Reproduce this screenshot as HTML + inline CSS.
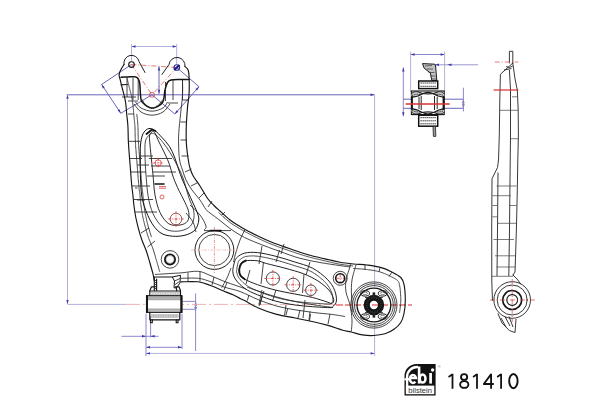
<!DOCTYPE html>
<html><head><meta charset="utf-8"><style>
html,body{margin:0;padding:0;width:600px;height:400px;overflow:hidden;background:#fff;}
svg{display:block;position:absolute;left:0;top:0}
.k{fill:none;stroke:#151515;stroke-width:1.15;stroke-linejoin:round;stroke-linecap:round}
.kt{fill:none;stroke:#262626;stroke-width:0.85}
.b{fill:none;stroke:#8c88cc;stroke-width:1}
.bd{fill:none;stroke:#6c66b8;stroke-width:1}
.bl{fill:none;stroke:#b4b0dc;stroke-width:1}
.rl{fill:none;stroke:#eeaaaa;stroke-width:0.9;stroke-dasharray:14 3 2 3}
.rb{fill:none;stroke:#e02a2a;stroke-width:1.2;stroke-dasharray:7 2}
.r{fill:none;stroke:#d02828;stroke-width:0.7}
.rx{fill:none;stroke:#e03838;stroke-width:0.8;stroke-dasharray:3 1.2 1 1.2}
.rd{fill:none;stroke:#d84040;stroke-width:0.7;stroke-dasharray:5 2 1 2}
.logo{position:absolute;font-family:"Liberation Sans",sans-serif}
</style></head><body>
<svg width="600" height="400" viewBox="0 0 600 400">
<line class="bl" x1="131.5" y1="46.5" x2="176.7" y2="46.5" />
<path d="M176.7,46.5 L172.7,47.7 L172.7,45.3Z" fill="#3a3aa8"/>
<path d="M131.5,46.5 L135.5,45.3 L135.5,47.7Z" fill="#3a3aa8"/>
<line class="bl" x1="131.5" y1="44.0" x2="131.5" y2="61.0" />
<line class="bl" x1="176.7" y1="44.0" x2="176.7" y2="64.0" />
<line class="bd" x1="131.4" y1="64.5" x2="101.6" y2="84.5" />
<line class="bd" x1="101.6" y1="84.5" x2="120.8" y2="113.3" />
<path d="M120.8,113.3 L117.6,110.6 L119.6,109.3Z" fill="#3a3aa8"/>
<path d="M101.6,84.5 L104.8,87.2 L102.8,88.5Z" fill="#3a3aa8"/>
<line class="bd" x1="120.8" y1="113.3" x2="152.0" y2="94.8" />
<line class="bd" x1="176.8" y1="67.5" x2="199.0" y2="86.7" />
<line class="bd" x1="199.0" y1="86.7" x2="174.8" y2="114.0" />
<path d="M174.8,114.0 L176.6,110.2 L178.4,111.8Z" fill="#3a3aa8"/>
<path d="M199.0,86.7 L197.2,90.5 L195.4,88.9Z" fill="#3a3aa8"/>
<line class="bd" x1="174.8" y1="114.0" x2="152.0" y2="94.8" />
<line class="bd" x1="159.0" y1="66.6" x2="159.0" y2="93.8" />
<path d="M159.0,93.8 L157.8,89.8 L160.2,89.8Z" fill="#3a3aa8"/>
<path d="M159.0,66.6 L160.2,70.6 L157.8,70.6Z" fill="#3a3aa8"/>
<line class="bd" x1="66.7" y1="94.8" x2="374.5" y2="94.8" />
<path d="M374.5,94.8 L370.5,96.0 L370.5,93.6Z" fill="#3a3aa8"/>
<line class="bl" x1="67.5" y1="94.8" x2="67.5" y2="304.0" />
<path d="M67.5,304.0 L66.3,300.0 L68.7,300.0Z" fill="#3a3aa8"/>
<path d="M67.5,94.8 L68.7,98.8 L66.3,98.8Z" fill="#3a3aa8"/>
<line class="bl" x1="67.5" y1="304.4" x2="126.0" y2="304.4" />
<line class="bl" x1="374.6" y1="94.8" x2="374.6" y2="287.0" />
<line class="bl" x1="374.6" y1="323.0" x2="374.6" y2="356.0" />
<line class="bl" x1="146.0" y1="353.4" x2="374.6" y2="353.4" />
<path d="M374.6,353.4 L370.6,354.6 L370.6,352.2Z" fill="#3a3aa8"/>
<path d="M146.0,353.4 L150.0,352.2 L150.0,354.6Z" fill="#3a3aa8"/>
<line class="b" x1="146.0" y1="347.3" x2="182.0" y2="347.3" />
<path d="M182.0,347.3 L178.0,348.5 L178.0,346.1Z" fill="#3a3aa8"/>
<path d="M146.0,347.3 L150.0,346.1 L150.0,348.5Z" fill="#3a3aa8"/>
<line class="b" x1="146.0" y1="313.7" x2="146.0" y2="356.0" />
<line class="b" x1="150.6" y1="316.0" x2="150.6" y2="337.4" />
<line class="b" x1="182.0" y1="313.7" x2="182.0" y2="349.0" />
<line class="b" x1="121.4" y1="336.3" x2="158.5" y2="336.3" />
<path d="M146.0,336.3 L142.0,337.5 L142.0,335.1Z" fill="#3a3aa8"/>
<path d="M150.6,336.3 L154.6,335.1 L154.6,337.5Z" fill="#3a3aa8"/>
<line class="bd" x1="195.6" y1="301.4" x2="195.6" y2="311.0" />
<path d="M195.6,311.0 L194.4,307.0 L196.8,307.0Z" fill="#3a3aa8"/>
<path d="M195.6,301.4 L196.8,305.4 L194.4,305.4Z" fill="#3a3aa8"/>
<line class="b" x1="195.6" y1="293.5" x2="195.6" y2="351.0" />
<line class="b" x1="182.5" y1="301.4" x2="196.0" y2="301.4" />
<line class="b" x1="182.5" y1="309.3" x2="196.0" y2="309.3" />
<line class="rl" x1="126.0" y1="304.4" x2="336.0" y2="304.4" />
<line class="rb" x1="336.0" y1="305.0" x2="412.0" y2="305.0" />
<path class="rd" d="M131.4,64.5 L176.75,67.5 M131.4,64.5 L152,94.75 L176.75,67.5" />
<path class="k" d="M124.0,64.5 C123.6,65.2 122.2,67.2 121.5,68.5 C120.8,69.8 120.0,71.2 119.6,72.5 C119.2,73.8 119.1,74.8 119.2,76.0 C119.3,77.2 119.8,78.0 120.3,80.0 C120.8,82.0 121.5,85.3 122.2,88.0 C122.9,90.7 123.7,93.3 124.3,96.0 C124.9,98.7 125.4,100.8 125.8,104.0 C126.2,107.2 126.4,111.3 126.8,115.0 C127.2,118.7 127.7,121.8 127.9,126.0 C128.2,130.2 128.1,135.2 128.3,140.0 C128.5,144.8 128.9,150.0 129.3,155.0 C129.7,160.0 130.1,165.0 130.5,170.0 C130.9,175.0 131.3,180.8 131.7,185.0 C132.1,189.2 132.5,191.5 132.9,195.0 C133.3,198.5 133.5,202.2 134.0,206.0 C134.5,209.8 135.1,213.7 135.8,217.5 C136.6,221.3 137.5,225.0 138.5,228.8 C139.5,232.5 140.6,236.2 141.9,240.0 C143.2,243.8 145.1,247.5 146.4,251.2 C147.7,255.0 148.7,258.8 149.8,262.5 C150.8,266.2 152.2,270.8 153.0,273.8 C153.8,276.8 154.0,279.4 154.2,280.5" />
<path class="k" d="M185.0,66.5 C185.6,67.2 187.6,68.2 188.3,70.5 C189.0,72.8 189.1,75.9 189.2,80.0 C189.3,84.1 189.3,90.4 189.0,95.0 C188.7,99.6 187.9,102.3 187.5,107.5 C187.1,112.7 186.5,120.2 186.3,126.0 C186.1,131.8 186.1,137.2 186.3,142.0 C186.5,146.8 187.1,151.2 187.6,155.0 C188.1,158.8 188.7,162.4 189.2,165.0 C189.7,167.6 190.1,168.6 190.8,170.5 C191.5,172.4 192.0,173.9 193.5,176.5 C195.0,179.1 197.6,182.2 200.0,186.0 C202.4,189.8 205.7,195.8 208.0,199.0 C210.3,202.2 212.0,203.5 214.0,205.5 C216.0,207.5 217.3,208.6 220.0,211.0 C222.7,213.4 226.7,217.4 230.0,220.0 C233.3,222.6 236.7,224.5 240.0,226.5 C243.3,228.5 246.7,230.2 250.0,232.0 C253.3,233.8 256.7,235.4 260.0,237.0 C263.3,238.6 266.7,240.1 270.0,241.5 C273.3,242.9 276.7,244.1 280.0,245.3 C283.3,246.5 286.7,247.7 290.0,248.8 C293.3,250.0 296.7,251.1 300.0,252.2 C303.3,253.3 306.7,254.3 310.0,255.2 C313.3,256.1 316.7,256.9 320.0,257.7 C323.3,258.5 326.7,259.2 330.0,260.0 C333.3,260.8 336.1,261.5 340.0,262.2 C343.9,262.9 349.0,263.5 353.5,264.0 C358.0,264.5 362.5,264.4 367.0,265.0 C371.5,265.6 376.4,266.2 380.5,267.4 C384.6,268.5 388.4,270.2 391.8,271.9 C395.2,273.6 398.8,275.4 400.8,277.5 C402.8,279.6 403.2,280.6 404.0,284.3 C404.8,288.1 405.3,295.1 405.3,300.0 C405.3,304.9 404.8,309.8 404.0,313.5 C403.2,317.2 402.5,319.9 400.8,322.5 C399.1,325.1 396.6,327.4 394.0,329.3 C391.4,331.2 388.4,332.8 385.0,333.8 C381.6,334.8 377.6,335.3 373.8,335.5 C370.1,335.7 366.2,335.5 362.5,334.9 C358.8,334.3 354.6,332.8 351.3,332.0 C348.0,331.2 346.6,331.3 342.8,330.2 C338.9,329.1 332.9,326.8 328.0,325.4 C323.1,324.0 318.9,322.9 313.4,321.7 C307.9,320.5 301.1,319.2 295.0,318.0 C288.9,316.8 282.8,316.1 276.7,314.4 C270.6,312.7 263.6,310.3 258.3,308.0 C253.0,305.7 248.1,302.4 245.0,300.8 C241.9,299.2 242.0,299.5 240.0,298.5 C238.0,297.5 235.7,295.9 233.0,294.7 C230.3,293.5 227.8,292.8 224.0,291.2 C220.2,289.6 214.3,286.9 210.0,285.3 C205.7,283.7 202.8,282.4 198.0,281.8 C193.2,281.2 183.8,281.8 181.0,281.8" />
<path class="kt" d="M127.1,78.4 L127.2,78.8 L127.2,78.8 L127.3,79.3 L127.5,79.8 L127.6,80.5 L127.8,81.2 L127.9,81.9 L128.1,82.7 L128.3,83.4 L128.5,84.2 L128.7,84.9 L128.8,85.6 L129.0,86.3 L129.1,86.9 L129.3,87.5 L129.5,88.2 L129.7,88.8 L129.8,89.5 L130.0,90.1 L130.0,90.2 L130.2,90.8 L130.2,90.8 L130.4,91.5 L130.4,91.6 L130.6,92.2 L130.6,92.3 L130.8,92.9 L130.8,93.0 L130.9,93.7 L131.0,93.8 L131.1,94.4 L131.1,94.5 L131.3,95.1 L131.3,95.1 L131.4,95.8 L131.4,95.8 L131.6,96.4 L131.6,96.5 L131.7,97.1 L131.7,97.1 L131.8,97.8 L131.9,97.8 L132.0,98.4 L132.0,98.5 L132.1,99.1 L132.1,99.2 L132.2,99.9 L132.3,99.9 L132.4,100.6 L132.4,100.7 L132.5,101.4 L132.5,101.5 L132.6,102.2 L132.6,102.3 L132.7,103.1 L132.7,103.1 L132.8,104.0 L132.9,104.0 L133.0,104.9 L133.0,105.0 L133.0,105.8 L133.1,105.9 L133.1,106.8 L133.1,106.8 L133.2,107.8 L133.2,107.8 L133.3,108.7 L133.3,108.8 L133.4,109.7 L133.5,110.7 L133.5,111.6 L133.6,112.5 L133.7,113.5 L133.8,114.3 L133.9,115.2 L133.9,116.0 L134.0,116.9 L134.1,117.8 L134.2,118.6 L134.2,118.6 L134.3,119.5 L134.3,119.5 L134.4,120.4 L134.4,120.5 L134.5,121.4 L134.5,121.4 L134.6,122.4 L134.6,122.4 L134.7,123.4 L134.7,123.5 L134.8,124.4 L134.8,124.5 L134.9,125.5 L134.9,125.6 L134.9,126.7 L135.0,126.8 L135.0,127.9 L135.0,127.9 L135.0,129.0 L135.0,129.1 L135.1,130.2 L135.1,130.3 L135.1,131.4 L135.1,131.4 L135.1,132.6 L135.1,133.8 L135.1,135.0 L135.2,136.2 L135.2,137.4 L135.2,138.5 L135.3,139.7 L135.4,140.8 L135.4,142.0 L135.5,143.3 L135.6,144.5 L135.6,145.7 L135.7,147.0 L135.8,148.2 L135.9,149.5 L136.0,150.7 L136.1,152.0 L136.2,153.2 L136.3,154.5 L136.4,155.7 L136.5,157.0 L136.6,158.2 L136.7,159.4 L136.8,160.7 L136.9,161.9 L137.0,163.2 L137.1,164.4 L137.2,165.7 L137.3,166.9 L137.4,168.2 L137.5,169.4 L137.5,169.4 L137.6,170.7 L137.6,170.7 L137.7,172.0 L137.7,172.0 L137.8,173.3 L137.9,174.7 L138.0,176.0 L138.1,177.3 L138.2,178.6 L138.3,179.8 L138.4,181.0 L138.5,182.2 L138.6,183.3 L138.7,184.3 L138.8,185.3 L138.9,186.2 L139.0,187.0 L139.1,187.8 L139.1,188.6 L139.2,189.3 L139.3,190.1 L139.4,190.9 L139.4,190.9 L139.5,191.6 L139.6,191.7 L139.7,192.5 L139.7,192.5 L139.8,193.3 L139.8,193.4 L139.9,194.2 L139.9,194.3 L140.0,195.1 L140.0,195.2 L140.0,196.1 L140.1,196.1 L140.1,197.0 L140.1,197.0 L140.2,197.9 L140.2,197.9 L140.3,198.9 L140.4,199.8 L140.5,200.7 L140.6,201.6 L140.6,202.5 L140.7,203.4 L140.8,204.2 L140.9,205.1 L141.1,206.0 L141.2,207.0 L141.3,207.9 L141.4,208.8 L141.6,209.7 L141.7,210.7 L141.9,211.6 L142.0,212.5 L142.2,213.4 L142.3,214.3 L142.5,215.3 L142.7,216.1 L142.8,217.0 L143.0,217.9 L143.2,218.8 L143.4,219.7 L143.6,220.6 L143.9,221.5 L144.1,222.4 L144.3,223.3 L144.5,224.2 L144.8,225.1 L145.0,226.0 L145.3,226.9 L145.5,227.8 L145.8,228.8 L146.0,229.7 L146.3,230.6 L146.5,231.5 L146.8,232.4 L147.1,233.3 L147.3,234.2 L147.6,235.0 L147.9,235.9 L148.2,236.8 L148.5,237.7 L148.8,238.5 L149.1,239.3 L149.5,240.2 L149.8,241.1 L150.2,242.0 L150.6,242.9 L151.0,243.8 L151.0,243.9 L151.4,244.8 L151.4,244.8 L151.8,245.8 L151.8,245.8 L152.2,246.8 L152.2,246.9 L152.6,247.8 L152.6,247.9 L153.0,248.9 L153.0,249.0 L153.3,249.9 L153.4,250.0 L153.7,251.0 L153.7,251.0 L154.0,252.0 L154.0,252.0 L154.3,253.0 L154.3,253.0 L154.6,254.0 L154.6,254.0 L154.9,254.9 L154.9,255.0 L155.2,255.9 L155.2,255.9 L155.4,256.9 L155.7,257.8 L155.9,258.7 L156.2,259.6 L156.5,260.5 L156.8,261.5 L156.8,261.5 L157.1,262.6 L157.4,263.6 L157.7,264.7 L158.0,265.8 L158.3,266.9 L158.6,267.9 L158.9,268.9 L159.1,269.8 L159.4,270.6 L159.6,271.3 L159.7,271.8" />
<path class="kt" d="M136.7,113.9 L136.8,114.4 L136.9,115.0 L136.9,115.8 L137.0,116.6 L137.0,116.6 L137.2,117.5 L137.2,117.5 L137.3,118.5 L137.3,118.5 L137.4,119.6 L137.4,119.6 L137.5,120.7 L137.5,120.7 L137.6,121.8 L137.6,121.9 L137.7,123.0 L137.7,123.1 L137.8,124.2 L137.8,124.3 L137.9,125.3 L137.9,125.5 L137.9,126.5 L137.9,126.7 L138.0,127.7 L138.0,127.8 L138.0,129.0 L138.0,129.0 L138.1,130.2 L138.1,130.2 L138.1,131.4 L138.1,131.4 L138.1,132.6 L138.1,133.8 L138.1,134.9 L138.2,136.1 L138.2,137.3 L138.2,138.4 L138.3,139.5 L138.3,140.7 L138.4,141.9 L138.5,143.1 L138.6,144.3 L138.6,145.5 L138.7,146.7 L138.8,148.0 L138.9,149.2 L139.0,150.5 L139.1,151.8 L139.2,153.0 L139.3,154.3 L139.4,155.5 L139.5,156.7 L139.6,158.0 L139.7,159.2 L139.8,160.4 L139.9,161.7 L140.0,162.9 L140.1,164.2 L140.2,165.4 L140.3,166.7 L140.4,167.9 L140.5,169.2 L140.5,169.2 L140.6,170.5 L140.6,170.5 L140.7,171.8 L140.7,171.8 L140.8,173.1 L140.9,174.4 L141.0,175.7 L141.1,177.0 L141.2,178.3 L141.3,179.6 L141.4,180.8 L141.5,181.9 L141.6,183.0 L141.7,184.0 L141.7,185.0 L141.8,185.8 L141.9,186.7 L142.0,187.4 L142.1,188.2 L142.2,189.0 L142.3,189.7 L142.4,190.5 L142.4,190.5 L142.5,191.3 L142.5,191.3 L142.6,192.1 L142.6,192.1 L142.7,193.0 L142.7,193.0 L142.8,193.9 L142.8,193.9 L142.9,194.8 L142.9,194.9 L143.0,195.8 L143.0,195.8 L143.1,196.7 L143.1,196.8 L143.2,197.7 L143.2,197.7 L143.3,198.6 L143.4,199.5 L143.5,200.4 L143.5,201.3 L143.6,202.2 L143.7,203.0 L143.8,203.9 L143.9,204.7 L144.0,205.6 L144.2,206.6 L144.3,207.5 L144.4,208.4 L144.5,209.3 L144.7,210.2 L144.8,211.1 L145.0,212.0 L145.1,212.9 L145.3,213.8 L145.4,214.7 L145.6,215.6 L145.8,216.4 L146.0,217.3 L146.2,218.2 L146.4,219.0 L146.6,219.9 L146.8,220.8 L147.0,221.7 L147.2,222.5 L147.4,223.4 L147.7,224.3 L147.9,225.2 L148.1,226.1 L148.4,227.0 L148.7,228.0 L149.0,229.0 L149.3,230.0 L149.6,231.1 L149.9,232.1 L150.2,233.1 L150.5,234.1 L150.8,235.0 L151.1,235.8 L151.1,235.8 L151.3,236.5 L151.3,236.5 L151.5,237.1" />
<path class="kt" d="M182.5,80.0 C182.5,82.5 182.8,89.4 182.5,95.0 C182.2,100.6 181.2,107.5 180.6,113.7 C180.0,120.0 179.1,127.3 178.8,132.5 C178.5,137.7 178.5,140.4 178.6,145.0 C178.7,149.6 178.9,155.8 179.6,160.0 C180.2,164.2 181.4,166.7 182.5,170.0 C183.6,173.3 184.4,176.7 186.0,180.0 C187.6,183.3 189.7,186.7 192.0,190.0 C194.3,193.3 197.7,196.8 200.0,200.0 C202.3,203.2 204.3,207.3 206.0,209.5 C207.7,211.7 207.7,211.2 210.0,213.0 C212.3,214.8 216.7,217.9 220.0,220.5 C223.3,223.1 226.7,226.1 230.0,228.5 C233.3,230.9 236.7,233.1 240.0,235.0 C243.3,236.9 245.8,238.2 250.0,240.0 C254.2,241.8 260.0,244.1 265.0,246.0 C270.0,247.9 274.2,249.4 280.0,251.5 C285.8,253.6 293.3,256.5 300.0,258.3 C306.7,260.1 313.3,261.3 320.0,262.5 C326.7,263.7 334.9,264.9 340.0,265.6 C345.1,266.4 348.8,266.8 350.5,267.0" />
<path class="kt" d="M218.6,212.5 L219.1,212.9 L219.7,213.5 L220.4,214.1 L221.2,214.9 L221.2,214.9 L222.1,215.7 L222.1,215.7 L223.0,216.6 L223.0,216.6 L224.0,217.4 L224.0,217.5 L225.0,218.3 L225.0,218.3 L225.9,219.2 L226.0,219.2 L226.9,220.1 L226.9,220.1 L227.9,220.8 L227.9,220.9 L228.8,221.6 L228.8,221.6 L229.6,222.2 L229.7,222.2 L230.5,222.9 L230.5,222.9 L231.4,223.5 L231.4,223.5 L232.2,224.0 L232.2,224.1 L233.1,224.6 L233.1,224.6 L233.9,225.2 L233.9,225.2 L234.8,225.7 L234.8,225.7 L235.6,226.2 L235.6,226.2 L236.5,226.7 L236.5,226.7 L237.3,227.2 L237.3,227.2 L238.1,227.7 L239.0,228.2 L239.0,228.2 L239.8,228.7 L239.8,228.7 L240.7,229.2 L240.7,229.2 L241.5,229.7 L241.5,229.7 L242.4,230.2 L242.4,230.2 L243.2,230.6 L243.2,230.6 L244.0,231.1 L244.0,231.1 L244.9,231.6 L244.9,231.6 L245.7,232.0 L245.7,232.0 L246.6,232.4 L246.6,232.5 L247.4,232.9 L247.4,232.9 L248.2,233.3 L249.1,233.8 L249.1,233.8 L249.9,234.2 L249.9,234.2 L250.7,234.6 L250.8,234.6 L251.6,235.1 L251.6,235.1 L252.4,235.5 L252.4,235.5 L253.3,235.9 L253.3,235.9 L254.1,236.3 L254.1,236.4 L254.9,236.8 L254.9,236.8 L255.8,237.2 L255.8,237.2 L256.6,237.6 L256.6,237.6 L257.5,238.0 L257.5,238.0 L258.3,238.4 L258.3,238.4 L259.1,238.8 L259.1,238.8 L260.0,239.2 L260.0,239.2 L260.8,239.6 L260.8,239.6 L261.7,240.0 L261.7,240.0 L262.5,240.4 L262.5,240.4 L263.3,240.8 L263.3,240.8 L264.2,241.1 L264.2,241.1 L265.0,241.5 L265.0,241.5 L265.9,241.9 L265.9,241.9 L266.7,242.3 L266.7,242.3 L267.5,242.6 L267.5,242.6 L268.4,243.0 L268.4,243.0 L269.2,243.3 L269.2,243.4 L270.1,243.7 L270.1,243.7 L270.9,244.0 L270.9,244.0 L271.8,244.4 L271.8,244.4 L272.6,244.7 L272.6,244.7 L273.5,245.0 L273.5,245.0 L274.3,245.3 L274.3,245.3 L275.1,245.6 L275.1,245.6 L276.0,246.0 L276.0,246.0 L276.8,246.3 L276.8,246.3 L277.6,246.6 L278.5,246.9 L279.3,247.2 L279.3,247.2 L280.2,247.5 L280.2,247.5 L281.0,247.8 L281.0,247.8 L281.8,248.1 L281.8,248.1 L282.7,248.4 L282.7,248.4 L283.5,248.7 L283.5,248.7 L284.3,249.0 L284.3,249.0 L285.2,249.3 L285.2,249.3 L286.0,249.5 L286.8,249.8 L287.7,250.1 L288.5,250.4 L289.3,250.7 L290.2,251.0 L291.0,251.3 L291.8,251.6 L292.7,251.8 L293.5,252.1 L293.5,252.1 L294.3,252.4 L294.4,252.4 L295.2,252.7 L295.2,252.7 L296.0,253.0 L296.0,253.0 L296.9,253.3 L296.9,253.3 L297.7,253.6 L297.7,253.6 L298.5,253.8 L298.6,253.8 L299.4,254.1 L299.4,254.1 L300.2,254.4 L300.2,254.4 L301.1,254.6 L301.1,254.6 L301.9,254.9 L301.9,254.9 L302.7,255.2 L302.7,255.2 L303.6,255.4 L303.6,255.4 L304.4,255.7 L304.4,255.7 L305.3,255.9 L305.3,255.9 L306.1,256.2 L306.1,256.2 L306.9,256.4 L306.9,256.4 L307.8,256.7 L307.8,256.7 L308.6,256.9 L308.6,256.9 L309.5,257.1 L309.5,257.1 L310.3,257.4 L310.3,257.4 L311.2,257.6 L311.2,257.6 L312.0,257.8 L312.0,257.8 L312.8,258.0 L312.8,258.0 L313.7,258.2 L313.7,258.2 L314.5,258.4 L314.5,258.4 L315.4,258.6 L315.4,258.6 L316.2,258.8 L316.2,258.8 L317.0,259.0 L317.9,259.2 L318.7,259.4 L319.5,259.6 L320.4,259.8 L320.4,259.8 L321.2,260.0 L321.2,260.0 L322.0,260.2 L322.0,260.2 L322.9,260.4 L322.9,260.4 L323.7,260.6 L323.7,260.6 L324.6,260.8 L324.6,260.8 L325.4,261.0 L326.2,261.2 L327.1,261.4 L327.9,261.6 L328.7,261.8 L329.6,262.0 L330.4,262.1 L331.2,262.3 L332.0,262.5 L332.7,262.7 L333.5,262.9 L333.5,262.9 L334.3,263.1 L334.3,263.1 L335.1,263.3 L335.2,263.3 L336.0,263.5 L336.0,263.5 L336.8,263.6 L336.9,263.6 L337.7,263.8 L337.8,263.8 L338.7,264.0 L338.7,264.0 L339.7,264.2 L339.7,264.2 L340.7,264.3 L340.7,264.3 L341.9,264.5 L341.9,264.5 L343.2,264.7 L343.2,264.7 L344.5,264.9 L344.5,264.9 L345.8,265.1 L345.8,265.1 L347.1,265.2 L347.1,265.2 L348.4,265.4 L348.4,265.4 L349.6,265.5 L350.7,265.7 L351.7,265.8 L352.6,265.9 L353.2,266.0" />
<path class="kt" d="M155.0,274.5 C157.5,274.3 165.5,273.8 170.0,273.5 C174.5,273.2 177.3,273.2 182.0,272.8 C186.7,272.4 193.6,270.9 198.3,271.3 C203.0,271.7 205.7,273.7 210.0,275.4 C214.3,277.1 219.7,279.6 224.0,281.3 C228.3,283.0 232.3,284.2 236.0,285.5 C239.7,286.8 244.3,288.4 246.0,289.0" />
<path class="kt" d="M181.0,278.3 C183.9,278.3 193.5,277.8 198.3,278.3 C203.1,278.8 205.7,280.1 210.0,281.5 C214.3,282.9 219.0,285.3 224.0,287.0 C229.0,288.7 234.3,289.4 240.0,291.5 C245.7,293.6 252.2,297.3 258.3,299.7 C264.4,302.1 270.6,304.4 276.7,306.1 C282.8,307.8 288.9,308.7 295.0,309.8 C301.1,310.8 307.3,311.7 313.4,312.5 C319.5,313.3 326.5,313.7 331.8,314.4 C337.0,315.1 342.8,316.1 345.0,316.5" />
<path class="kt" d="M247.0,287.0 C248.3,287.5 250.3,288.4 255.0,290.0 C259.7,291.6 268.3,294.6 275.0,296.5 C281.7,298.4 288.3,300.1 295.0,301.5 C301.7,302.9 308.7,304.0 315.0,305.0 C321.3,306.0 330.0,307.1 333.0,307.5" />
<line class="kt" x1="259.0" y1="306.0" x2="264.0" y2="291.0" />
<line class="kt" x1="272.5" y1="301.0" x2="276.0" y2="290.0" />
<line class="kt" x1="286.0" y1="315.0" x2="287.5" y2="309.0" />
<line class="kt" x1="309.5" y1="321.0" x2="310.5" y2="314.0" />
<line class="kt" x1="249.0" y1="295.0" x2="247.3" y2="300.6" />
<line class="kt" x1="262.0" y1="297.0" x2="260.0" y2="305.0" />
<line class="kt" x1="286.0" y1="305.0" x2="284.5" y2="315.5" />
<line class="kt" x1="310.0" y1="311.5" x2="309.0" y2="320.0" />
<line class="kt" x1="214.0" y1="277.0" x2="212.0" y2="285.0" />
<line class="kt" x1="227.0" y1="282.5" x2="224.0" y2="290.0" />
<line class="kt" x1="200.0" y1="271.5" x2="200.0" y2="281.5" />
<line class="kt" x1="188.0" y1="272.5" x2="188.0" y2="281.5" />
<path class="k" d="M124,64.5 A7.6,7.6 0 0 1 139,61.5 L145,72.5" style="stroke-width:0.95"/>
<path class="k" d="M162,74.4 L169,64.5 A8,8 0 0 1 185,66.5" style="stroke-width:0.95"/>
<circle class="k" cx="131.5" cy="64.5" r="2.8" />
<circle class="k" cx="176.8" cy="67.5" r="2.8" style="stroke:#2a2a90"/>
<path class="k" d="M174.8,69.3 L178.8,65.7" style="stroke:#1a1a80;stroke-width:2.2"/>
<path class="k" d="M121.0,77.3 C122.2,77.2 125.7,77.1 128.0,77.0 C130.3,76.9 133.3,76.5 135.0,76.8 C136.7,77.0 137.2,77.3 138.0,78.5 C138.8,79.7 139.4,81.1 139.8,84.0 C140.2,86.9 140.2,92.9 140.6,96.0 C141.0,99.1 140.5,100.5 142.5,102.5 C144.5,104.5 149.2,108.0 152.5,108.0 C155.8,108.0 160.4,105.5 162.5,102.5 C164.6,99.5 164.2,93.3 165.0,90.0 C165.8,86.7 166.5,84.2 167.5,82.5 C168.5,80.8 168.9,80.5 171.0,80.0 C173.1,79.5 177.0,79.6 180.0,79.5 C183.0,79.4 187.5,79.5 189.0,79.5" style="stroke-width:1.5"/>
<path class="kt" d="M142.0,100.0 C142.7,100.9 144.3,104.1 146.0,105.5 C147.7,106.9 150.0,108.3 152.0,108.3 C154.0,108.3 156.2,106.9 158.0,105.5 C159.8,104.1 162.2,100.9 163.0,100.0" style="stroke-dasharray:1.2 0.6;stroke-width:1.3"/>
<path class="kt" d="M135.5,102.0 C136.4,103.0 138.2,106.5 141.0,108.0 C143.8,109.5 148.3,111.2 152.0,111.2 C155.7,111.2 160.4,109.5 163.0,108.0 C165.6,106.5 166.8,103.0 167.5,102.0" />
<path class="kt" d="M134.0,104.0 C135.2,105.3 138.0,110.1 141.0,112.0 C144.0,113.9 148.3,115.2 152.0,115.2 C155.7,115.2 160.0,113.9 163.0,112.0 C166.0,110.1 168.8,105.3 170.0,104.0" />
<path class="kt" d="M128,101 L138,101 M168,103 L178,103 M128,114 L134,114 M138.2,80 L138.2,100 M165.5,82 L165.5,101" />
<path class="kt" d="M120.5,85 L128,84.5 M127,77 L127,97 M133,78 L133,100 M173,80 L173,100 M182.5,80 L182.5,100 M122,97 L136,97" />
<path class="kt" d="M150.0,128.5 C151.6,128.6 153.3,129.3 155.3,130.8 C157.3,132.3 159.6,134.9 162.0,137.5 C164.4,140.1 167.4,143.2 169.5,146.5 C171.6,149.8 173.0,153.2 174.5,157.0 C176.0,160.8 177.2,165.2 178.5,169.0 C179.8,172.8 180.9,176.2 182.5,180.0 C184.1,183.8 186.2,188.2 188.0,192.0 C189.8,195.8 191.5,199.7 193.0,203.0 C194.5,206.3 196.0,209.2 197.0,212.0 C198.0,214.8 199.1,217.0 198.8,220.0 C198.5,223.0 197.3,227.5 195.0,230.0 C192.7,232.5 188.8,234.2 185.0,235.2 C181.2,236.2 176.7,236.6 172.5,236.2 C168.3,235.8 163.8,235.2 160.0,232.5 C156.2,229.8 152.9,225.4 150.0,220.0 C147.1,214.6 144.1,206.7 142.5,200.0 C140.9,193.3 141.0,186.7 140.6,180.0 C140.2,173.3 140.3,165.8 140.3,160.0 C140.3,154.2 140.1,149.2 140.5,145.0 C140.9,140.8 141.6,137.5 142.5,135.0 C143.4,132.5 144.8,131.1 146.0,130.0 C147.2,128.9 148.4,128.4 150.0,128.5Z" style="stroke:#151515;stroke-width:1"/>
<path class="kt" d="M151.5,133.5 C152.9,133.2 154.1,133.5 156.0,135.0 C157.9,136.5 160.7,139.6 163.0,142.5 C165.3,145.4 167.7,148.8 170.0,152.5 C172.3,156.2 174.8,160.8 177.0,165.0 C179.2,169.2 181.0,172.6 183.0,178.0 C185.0,183.4 187.1,192.2 188.8,197.5 C190.6,202.8 192.7,206.2 193.5,210.0 C194.3,213.8 194.3,217.1 193.5,220.0 C192.7,222.9 191.5,225.6 188.8,227.5 C186.1,229.4 181.5,231.0 177.5,231.2 C173.5,231.4 168.8,231.1 165.0,228.8 C161.2,226.5 157.7,222.3 155.0,217.5 C152.3,212.7 150.3,207.1 148.8,200.0 C147.3,192.9 146.6,182.5 146.0,175.0 C145.4,167.5 145.1,160.5 145.0,155.0 C144.9,149.5 144.8,145.1 145.3,142.0 C145.8,138.9 146.8,137.9 147.8,136.5 C148.8,135.1 150.1,133.8 151.5,133.5Z" />
<path class="kt" d="M152.0,131.8 C152.8,131.2 153.3,130.6 154.5,132.3 C155.7,134.0 157.2,138.4 159.0,142.0 C160.8,145.6 163.2,150.2 165.0,154.0 C166.8,157.8 168.2,161.0 169.5,164.5 C170.8,168.0 171.2,171.2 172.5,175.0 C173.8,178.8 175.4,182.9 177.5,187.5 C179.6,192.1 183.1,198.3 185.0,202.5 C186.9,206.7 188.4,209.4 188.8,212.5 C189.2,215.6 189.0,219.1 187.5,221.2 C186.0,223.3 183.1,224.6 180.0,225.0 C176.9,225.4 172.1,225.9 168.8,223.8 C165.5,221.7 162.3,217.3 160.0,212.5 C157.7,207.7 156.2,201.2 155.0,195.0 C153.8,188.8 153.6,180.8 153.0,175.0 C152.4,169.2 152.0,165.0 151.5,160.0 C151.0,155.0 150.3,149.0 150.0,145.0 C149.7,141.0 149.2,138.2 149.5,136.0 C149.8,133.8 151.2,132.4 152.0,131.8Z" style="stroke:#151515;stroke-width:0.9"/>
<path class="k" d="M146.5,134 L152,129.5 L155.5,131" style="stroke-width:1.8"/>
<line class="kt" x1="127.3" y1="84.5" x2="121.0" y2="84.5" />
<line class="kt" x1="128.5" y1="141.3" x2="140.5" y2="141.3" />
<line class="kt" x1="129.6" y1="158.5" x2="142.0" y2="158.5" />
<line class="kt" x1="130.8" y1="172.0" x2="146.0" y2="172.0" />
<line class="kt" x1="132.0" y1="186.0" x2="150.0" y2="186.0" />
<line class="kt" x1="133.4" y1="199.5" x2="153.0" y2="199.5" />
<line class="kt" x1="135.0" y1="212.0" x2="157.0" y2="212.0" />
<line class="kt" x1="141.0" y1="233.0" x2="149.0" y2="228.0" />
<line class="kt" x1="147.5" y1="247.0" x2="155.0" y2="241.0" />
<line class="kt" x1="149.0" y1="158.5" x2="172.0" y2="158.5" />
<line class="kt" x1="151.0" y1="166.0" x2="170.0" y2="166.0" />
<line class="kt" x1="153.0" y1="172.0" x2="176.0" y2="172.0" />
<line class="kt" x1="139.0" y1="156.0" x2="153.0" y2="156.0" />
<line class="kt" x1="137.0" y1="165.0" x2="149.0" y2="165.0" />
<line class="kt" x1="147.0" y1="176.0" x2="165.0" y2="176.0" />
<line class="kt" x1="135.0" y1="188.0" x2="137.5" y2="188.0" />
<line class="kt" x1="137.0" y1="200.0" x2="145.0" y2="200.0" />
<line class="k" x1="155.0" y1="184.0" x2="164.0" y2="184.0" style="stroke-width:1.6"/>
<line class="kt" x1="182.5" y1="100.0" x2="189.0" y2="100.0" />
<line class="kt" x1="180.5" y1="122.0" x2="186.5" y2="122.0" />
<line class="kt" x1="180.5" y1="140.0" x2="187.0" y2="140.0" />
<line class="kt" x1="181.5" y1="156.0" x2="188.5" y2="156.0" />
<line class="kt" x1="185.0" y1="172.0" x2="191.5" y2="169.0" />
<line class="kt" x1="191.0" y1="186.0" x2="197.0" y2="183.0" />
<line class="kt" x1="199.0" y1="198.0" x2="204.0" y2="193.0" />
<line class="kt" x1="208.0" y1="207.0" x2="212.0" y2="201.0" />
<line class="kt" x1="222.0" y1="215.0" x2="225.0" y2="212.0" />
<path class="kt" d="M204,230.6 L231,230.6" />
<path class="k" d="M210.5,230.6 L221,230.6" style="stroke-width:1.6"/>
<path class="kt" d="M245.0,229.5 C244.2,231.2 241.5,236.2 240.0,240.0 C238.5,243.8 237.1,248.3 236.0,252.0 C234.9,255.7 233.9,260.3 233.5,262.0" />
<path class="kt" d="M221.7,287.7 C222.6,286.1 225.4,281.3 227.0,278.0 C228.6,274.7 230.3,269.7 231.0,268.0" />
<path class="kt" d="M190.0,205.0 C191.7,206.7 197.3,211.5 200.0,215.0 C202.7,218.5 205.3,223.5 206.0,226.0 C206.7,228.5 204.3,229.3 204.0,230.0" />
<path class="kt" d="M186.0,213.0 C187.2,214.5 191.3,218.8 193.0,222.0 C194.7,225.2 195.5,230.3 196.0,232.0" />
<path class="kt" d="M232.8,271.8 C232.6,268.8 233.8,264.4 234.5,262.0 C235.2,259.6 235.6,258.7 237.3,257.2 C239.0,255.7 241.3,253.9 244.7,253.1 C248.1,252.3 252.3,252.1 257.5,252.6 C262.7,253.1 269.8,254.8 275.9,256.3 C282.0,257.8 288.1,259.8 294.2,261.8 C300.3,263.8 307.1,265.3 312.6,268.2 C318.1,271.1 323.5,275.5 327.2,279.2 C330.9,282.9 333.1,286.5 334.6,290.2 C336.1,293.9 336.7,298.4 336.4,301.2 C336.1,303.9 334.0,305.6 332.8,306.7 C331.5,307.8 332.4,307.6 329.0,307.6 C325.6,307.6 318.4,307.1 312.6,306.7 C306.8,306.2 300.3,305.8 294.2,304.9 C288.1,304.0 282.0,302.9 275.9,301.2 C269.8,299.5 262.7,296.9 257.5,294.8 C252.3,292.7 248.3,290.9 244.7,288.4 C241.1,285.9 238.0,282.8 236.0,280.0 C234.0,277.2 233.1,274.8 232.8,271.8Z" style="stroke:#151515;stroke-width:0.95"/>
<path class="kt" d="M239.2,270.0 C239.3,268.1 240.1,265.5 241.0,264.0 C241.9,262.5 241.9,261.3 244.7,260.8 C247.4,260.3 253.8,260.3 257.5,260.8 C261.2,261.3 262.1,262.4 266.7,263.6 C271.3,264.8 278.9,266.5 285.0,268.2 C291.1,269.9 297.9,271.6 303.4,273.7 C308.9,275.8 313.7,278.2 318.0,281.0 C322.3,283.8 326.4,287.1 329.0,290.2 C331.6,293.3 333.2,297.2 333.7,299.4 C334.2,301.6 332.9,303.1 331.8,303.5 C330.7,303.9 330.4,303.0 327.2,302.0 C324.0,301.0 318.1,298.9 312.6,297.5 C307.1,296.1 300.3,295.1 294.2,293.9 C288.1,292.7 282.0,291.7 275.9,290.2 C269.8,288.7 262.7,286.5 257.5,284.7 C252.3,282.9 247.5,280.7 244.7,279.2 C241.9,277.7 241.4,277.0 240.5,275.5 C239.6,274.0 239.1,271.9 239.2,270.0Z" style="stroke:#151515;stroke-width:0.95"/>
<path class="k" d="M246.0,260.6 C245.2,261.2 242.1,262.4 241.0,264.0 C239.9,265.6 239.3,268.1 239.2,270.0 C239.1,271.9 239.6,274.0 240.5,275.5 C241.4,277.0 244.0,278.6 244.7,279.2" style="stroke-width:1.9"/>
<line class="kt" x1="263.5" y1="262.0" x2="261.0" y2="284.0" />
<line class="kt" x1="304.0" y1="274.0" x2="302.5" y2="293.0" />
<path class="kt" d="M236.5,271.5 L236.5,271.2 L236.5,271.2 L236.6,270.4 L236.8,269.6 L236.9,268.7 L237.0,267.7 L237.2,266.8 L237.3,265.9 L237.5,265.0 L237.7,264.2 L237.8,263.6 L238.0,263.0 L238.1,262.5 L238.3,262.1 L238.4,261.7 L238.5,261.4 L238.6,261.2 L238.7,261.0 L238.8,260.9 L238.9,260.7 L239.0,260.6 L239.1,260.4 L239.4,260.2 L239.7,259.9 L240.1,259.6 L240.5,259.2 L240.9,258.9 L241.3,258.6 L241.8,258.3 L242.3,258.0 L242.7,257.7 L243.2,257.4 L243.8,257.2 L244.3,257.0 L244.9,256.8 L245.5,256.6 L246.2,256.5 L247.0,256.3 L247.9,256.2 L248.7,256.1 L249.6,256.0 L250.6,256.0 L251.6,255.9 L252.6,255.9 L253.7,255.9 L254.8,256.0 L255.9,256.1 L257.1,256.2 L258.4,256.3 L259.7,256.5 L261.1,256.7 L262.6,257.0 L264.1,257.3 L265.6,257.6 L267.2,257.9 L268.8,258.3 L270.4,258.7 L271.9,259.0 L273.5,259.4 L275.0,259.8 L276.5,260.2 L278.0,260.6 L279.5,261.0 L281.0,261.4 L282.5,261.9 L284.0,262.3 L285.5,262.8 L287.0,263.3 L288.5,263.7 L290.0,264.2 L291.6,264.7 L293.1,265.2 L293.1,265.2 L294.7,265.7 L294.7,265.7 L296.3,266.2 L296.3,266.2 L297.9,266.7 L297.9,266.7 L299.4,267.1 L301.0,267.6 L302.5,268.1 L304.1,268.6 L305.5,269.1 L307.0,269.6 L308.3,270.2 L309.7,270.8 L310.9,271.4 L312.2,272.1 L313.4,272.8 L314.7,273.6 L316.0,274.5 L317.2,275.4 L318.4,276.3 L319.6,277.2 L320.7,278.1 L321.8,279.0 L322.8,280.0 L323.8,280.9 L324.6,281.7 L325.5,282.6 L326.2,283.4 L326.9,284.2 L327.5,285.0 L328.1,285.9 L328.7,286.7 L329.2,287.5 L329.7,288.3 L330.1,289.1 L330.5,289.9 L330.9,290.8 L331.3,291.6 L331.6,292.4 L331.9,293.2 L332.1,294.0 L332.3,294.9 L332.5,295.7 L332.6,296.6 L332.7,297.4 L332.8,298.2 L332.9,299.0 L332.9,299.7 L332.9,300.3 L332.8,300.8 L332.8,301.1 L332.7,301.3 L332.6,301.6 L332.5,301.8 L332.3,302.1 L332.1,302.3 L331.9,302.6 L331.6,302.9 L331.3,303.1 L331.0,303.4 L330.7,303.7 L330.4,304.0 L330.4,304.0 L329.8,304.0 L329.8,304.0 L329.0,304.0 L328.1,304.0 L327.1,304.0 L326.0,303.9 L324.7,303.9 L323.4,303.8 L321.9,303.7 L320.4,303.6 L318.9,303.5 L317.4,303.4 L315.9,303.3 L314.3,303.2 L312.9,303.1 L311.4,303.0 L309.9,302.9 L308.4,302.8 L306.9,302.6 L305.4,302.5 L303.8,302.4 L302.3,302.2 L300.8,302.1 L299.2,301.9 L297.7,301.7 L296.2,301.6 L294.7,301.3 L293.2,301.1 L291.7,300.9 L290.2,300.6 L288.7,300.4 L287.2,300.1 L285.7,299.8 L284.3,299.5 L282.8,299.2 L281.3,298.9 L279.8,298.5 L278.3,298.1 L276.9,297.7 L275.4,297.3 L273.8,296.8 L272.3,296.4 L270.7,295.8 L269.1,295.3 L267.6,294.8 L266.0,294.2 L264.5,293.7 L263.0,293.1 L261.6,292.5 L260.2,292.0 L258.9,291.5 L257.6,290.9 L256.4,290.4 L255.2,289.9 L254.1,289.5 L253.1,289.0 L252.1,288.5 L251.1,288.0 L250.2,287.5 L249.3,287.0 L248.4,286.5 L247.6,286.0 L246.7,285.4 L245.9,284.9 L245.2,284.3 L244.4,283.7 L243.7,283.0 L243.0,282.4 L242.3,281.7 L241.6,281.1 L241.0,280.4 L240.4,279.8 L239.9,279.1 L239.4,278.5 L239.0,277.9 L238.6,277.4 L238.3,276.9 L238.0,276.3 L237.8,275.6 L237.5,275.0 L237.3,274.3 L237.1,273.6 L236.9,272.9 L236.7,272.3 L236.7,272.3 L236.6,271.7 L236.5,271.7 L236.5,271.5" />
<line class="kt" x1="262.0" y1="246.0" x2="259.0" y2="264.0" />
<line class="kt" x1="279.5" y1="250.0" x2="276.0" y2="262.0" />
<line class="kt" x1="262.0" y1="290.0" x2="259.0" y2="304.0" />
<line class="kt" x1="310.0" y1="262.0" x2="306.0" y2="275.0" />
<line class="kt" x1="305.0" y1="300.0" x2="303.0" y2="318.0" />
<line class="kt" x1="250.0" y1="270.0" x2="246.0" y2="284.0" />
<line class="kt" x1="284.0" y1="244.0" x2="281.0" y2="254.0" />
<line class="kt" x1="300.0" y1="310.0" x2="298.0" y2="318.0" />
<line class="kt" x1="330.0" y1="314.0" x2="328.0" y2="324.0" />
<path class="k" d="M154.3,277 L154.3,290.5 M156.6,279 L156.6,290.5 M154.3,277 L172.3,277" />
<path class="kt" d="M155.5,280 L155.5,289" style="stroke-dasharray:1 1"/>
<path d="M172.3,277 L180.5,275.3 L180,283 L176.3,287.8 L174,287.8 L174.5,281 Z" fill="#fff" stroke="#151515" stroke-width="1"/>
<path class="kt" d="M174.5,281 L180,278.5 M175,284.5 L179.5,281.5" />
<path class="k" d="M176.3,287.8 L176.8,290.8" />
<path class="k" d="M151.5,286.8 L155,286.8 M175.5,286.8 L179,286.8 M151.5,286.8 L149.8,290.8 L149.8,295.8 M179,286.8 L180.5,290.8 L180.5,295.8" />
<path class="k" d="M149.8,291 L180.5,291" style="stroke-width:1.2"/>
<rect x="150.5" y="292.2" width="29.5" height="2.6" fill="#b8b8b8"/>
<path class="kt" d="M151,293.5 L179.5,293.5" style="stroke:#fff;stroke-width:0.7;stroke-dasharray:1.5 1"/>
<rect x="146.6" y="295.8" width="35.2" height="16.5" fill="#fff" stroke="#111" stroke-width="1.3"/>
<rect x="147" y="296.5" width="34.5" height="3.7" fill="#a8a8a8"/>
<path class="kt" d="M147.5,298.2 L181.5,298.2" style="stroke:#ddd;stroke-width:0.6;stroke-dasharray:1.2 0.8"/>
<rect x="147" y="308.5" width="34.5" height="3.6" fill="#a8a8a8"/>
<path class="kt" d="M147.5,310.3 L181.5,310.3" style="stroke:#ddd;stroke-width:0.6;stroke-dasharray:1.2 0.8"/>
<path class="k" d="M147,296 L147,312 M181.3,296 L181.3,312" style="stroke-width:2"/>
<path class="k" d="M149.8,312.3 L149.8,319.8 L179.8,319.8 L179.8,312.3" style="stroke-width:1.2"/>
<rect x="151" y="314.3" width="27.5" height="3.4" fill="#b0b0b0"/>
<path class="kt" d="M151.5,316 L177.5,316" style="stroke:#fff;stroke-width:0.7;stroke-dasharray:1.5 1"/>
<path class="k" d="M150.5,319.8 L150.5,322.8 L152.3,322.8 L152.3,319.8 M176.2,319.8 L176.2,322.8 L178,322.8 L178,319.8" style="stroke-width:1.1"/>
<circle class="kt" cx="170.0" cy="259.4" r="8.8" />
<circle class="k" cx="170.0" cy="259.4" r="5.1" style="stroke-width:1.8"/>
<circle class="kt" cx="170.0" cy="259.4" r="3.9" style="stroke:#888;stroke-width:0.6"/>
<circle class="kt" cx="214.4" cy="250.0" r="19.4" style="stroke:#111;stroke-width:0.95"/>
<circle class="kt" cx="214.4" cy="250.0" r="15.6" />
<circle class="kt" cx="340.2" cy="278.3" r="7.0" />
<circle class="k" cx="340.2" cy="278.3" r="4.5" style="stroke-width:1.6"/>
<line class="rx" x1="336.5" y1="278.3" x2="344.0" y2="278.3" />
<line class="rx" x1="340.2" y1="274.6" x2="340.2" y2="282.0" />
<circle class="kt" cx="373.9" cy="305.0" r="23.1" />
<circle class="kt" cx="373.9" cy="305.0" r="21.3" />
<circle class="kt" cx="373.9" cy="305.0" r="19.4" />
<circle class="k" cx="373.9" cy="305.0" r="16.9" style="stroke-width:1.3"/>
<circle class="k" cx="373.9" cy="305.0" r="7.2" style="stroke-width:6.1"/>
<circle class="kt" cx="373.9" cy="305.0" r="7.2" style="stroke:#777;stroke-width:0.7;stroke-dasharray:0.8 1.6"/>
<ellipse class="kt" cx="365.1" cy="293.4" rx="4.4" ry="2.7" style="stroke:#111;stroke-width:1"/>
<ellipse class="kt" cx="365.1" cy="293.4" rx="2.4" ry="1.2" style="stroke:#444;stroke-width:0.6"/>
<ellipse class="kt" cx="365.1" cy="316.6" rx="4.4" ry="2.7" style="stroke:#111;stroke-width:1"/>
<ellipse class="kt" cx="365.1" cy="316.6" rx="2.4" ry="1.2" style="stroke:#444;stroke-width:0.6"/>
<ellipse class="kt" cx="382.7" cy="293.4" rx="4.4" ry="2.7" style="stroke:#111;stroke-width:1"/>
<ellipse class="kt" cx="382.7" cy="293.4" rx="2.4" ry="1.2" style="stroke:#444;stroke-width:0.6"/>
<ellipse class="kt" cx="382.7" cy="316.6" rx="4.4" ry="2.7" style="stroke:#111;stroke-width:1"/>
<ellipse class="kt" cx="382.7" cy="316.6" rx="2.4" ry="1.2" style="stroke:#444;stroke-width:0.6"/>
<rect x="372.6" y="292.4" width="2.6" height="4.6" fill="#222"/>
<rect x="372.6" y="313" width="2.6" height="4.6" fill="#222"/>
<path class="kt" d="M364.9,297.5 L382.9,297.5 M364.9,312.5 L382.9,312.5" />
<path class="kt" d="M350.5,264.0 C350.2,265.0 349.8,267.3 349.0,270.0 C348.2,272.7 346.5,276.3 346.0,280.0 C345.5,283.7 345.3,287.8 346.0,292.0 C346.7,296.2 349.0,300.3 350.0,305.0 C351.0,309.7 351.8,315.6 352.0,320.0 C352.2,324.4 351.4,329.6 351.3,331.5" />
<path class="kt" d="M356.0,265.0 C355.3,267.5 352.8,275.0 352.0,280.0 C351.2,285.0 351.3,289.7 351.5,295.0 C351.7,300.3 352.8,309.2 353.0,312.0" />
<path class="kt" d="M353.2,268.5 L353.9,268.5 L353.9,268.5 L354.7,268.6 L354.7,268.6 L355.7,268.6 L356.7,268.7 L357.9,268.8 L359.1,268.8 L360.4,268.9 L361.7,269.0 L362.9,269.1 L364.2,269.2 L365.3,269.3 L366.5,269.5 L367.6,269.6 L368.7,269.8 L369.8,269.9 L370.9,270.1 L372.0,270.2 L373.1,270.4 L374.2,270.6 L375.3,270.8 L376.3,271.0 L377.4,271.2 L378.3,271.5 L379.3,271.7 L380.2,272.0 L381.1,272.3 L382.1,272.6 L383.0,272.9 L383.8,273.3 L384.7,273.6 L385.6,274.0 L386.5,274.4 L387.3,274.7 L388.2,275.1 L389.0,275.5 L389.8,275.9 L390.6,276.3 L391.4,276.8 L392.3,277.2 L393.0,277.6 L393.8,278.0 L394.5,278.4 L395.2,278.8 L395.8,279.2 L396.4,279.6 L396.8,280.0 L397.3,280.3 L397.6,280.7 L398.0,281.1 L398.3,281.4 L398.5,281.6 L398.6,281.8 L398.7,282.0 L398.8,282.2 L398.9,282.4 L399.0,282.7 L399.1,283.1 L399.3,283.7 L399.4,284.4 L399.6,285.2 L399.7,286.1 L399.9,287.1 L400.1,288.2 L400.2,289.4 L400.3,290.7 L400.4,292.1 L400.5,293.5 L400.6,294.9 L400.7,296.2 L400.8,297.5 L400.8,298.8 L400.8,300.0 L400.8,301.1 L400.7,302.3 L400.6,303.5 L400.5,304.7 L400.4,306.0 L400.3,307.2 L400.1,308.4 L400.0,309.5 L399.8,310.5 L399.7,311.5 L399.7,311.5 L399.6,312.3 L399.6,312.4 L399.5,313.0" />
<line class="kt" x1="365.0" y1="265.0" x2="365.0" y2="270.0" />
<line class="kt" x1="380.0" y1="267.5" x2="379.0" y2="272.0" />
<line class="kt" x1="392.0" y1="272.0" x2="389.0" y2="276.5" />
<circle class="r" cx="158.2" cy="163.0" r="3.2" />
<line class="rx" x1="153.1" y1="163.0" x2="163.4" y2="163.0" />
<line class="rx" x1="158.2" y1="157.8" x2="158.2" y2="168.2" />
<circle class="kt" cx="176.0" cy="219.0" r="5.8" style="stroke:#8a4040"/>
<line class="rx" x1="168.2" y1="219.0" x2="183.8" y2="219.0" />
<line class="rx" x1="176.0" y1="211.2" x2="176.0" y2="226.8" />
<circle class="kt" cx="272.9" cy="278.5" r="6.6" />
<line class="rx" x1="264.3" y1="278.5" x2="281.5" y2="278.5" />
<line class="rx" x1="272.9" y1="269.9" x2="272.9" y2="287.1" />
<circle class="kt" cx="293.2" cy="284.8" r="6.6" />
<line class="rx" x1="284.6" y1="284.8" x2="301.8" y2="284.8" />
<line class="rx" x1="293.2" y1="276.2" x2="293.2" y2="293.4" />
<circle class="kt" cx="310.9" cy="290.2" r="5.3" />
<line class="rx" x1="303.6" y1="290.2" x2="318.2" y2="290.2" />
<line class="rx" x1="310.9" y1="282.9" x2="310.9" y2="297.5" />
<circle class="r" cx="162.0" cy="197.0" r="2.0" />
<line class="r" x1="159.0" y1="186.6" x2="166.0" y2="186.6" />
<line class="r" x1="159.0" y1="188.2" x2="166.0" y2="188.2" />
<line class="rx" x1="214.4" y1="227.0" x2="214.4" y2="273.0" style="stroke:#e87878"/>
<line class="rx" x1="191.0" y1="250.0" x2="238.0" y2="250.0" style="stroke:#f0b0b0"/>
<circle class="r" cx="152.0" cy="94.8" r="2.5" />
<line class="b" x1="410.6" y1="54.5" x2="444.6" y2="54.5" />
<path d="M444.6,54.5 L440.6,55.7 L440.6,53.3Z" fill="#3a3aa8"/>
<path d="M410.6,54.5 L414.6,53.3 L414.6,55.7Z" fill="#3a3aa8"/>
<line class="bl" x1="410.6" y1="51.5" x2="410.6" y2="92.0" />
<line class="bl" x1="444.6" y1="51.5" x2="444.6" y2="92.0" />
<line class="b" x1="435.0" y1="64.8" x2="478.0" y2="64.8" style="stroke:#9a98cc"/>
<path d="M435.0,64.8 L439.0,63.6 L439.0,66.0Z" fill="#3a3aa8"/>
<path d="M447.5,64.8 L451.5,63.6 L451.5,66.0Z" fill="#3a3aa8"/>
<line class="b" x1="403.3" y1="67.5" x2="403.3" y2="116.3" />
<path d="M403.3,116.3 L402.1,112.3 L404.5,112.3Z" fill="#3a3aa8"/>
<path d="M403.3,67.5 L404.5,71.5 L402.1,71.5Z" fill="#3a3aa8"/>
<line class="bd" x1="403.3" y1="99.2" x2="463.5" y2="99.2" />
<line class="bd" x1="403.3" y1="108.3" x2="463.5" y2="108.3" />
<line class="b" x1="463.4" y1="99.2" x2="463.4" y2="108.3" />
<path d="M463.4,108.3 L462.2,104.3 L464.6,104.3Z" fill="#3a3aa8"/>
<path d="M463.4,99.2 L464.6,103.2 L462.2,103.2Z" fill="#3a3aa8"/>
<line class="b" x1="463.4" y1="87.7" x2="463.4" y2="111.5" />
<path d="M422.5,63.6 L434.8,64.2 L435.6,66 L436.8,80.6 L431.8,80.6 L430.4,73 L424.2,68.2Z" fill="#c4c4c4" stroke="#1a1a1a" stroke-width="1"/>
<path class="kt" d="M425,66 L432,65.5 M426.5,69 L433,69 M428.5,72.5 L434.5,72.5 M430.5,76 L435.5,76 M432,79 L436.5,79" style="stroke:#333;stroke-width:0.7"/>
<rect x="418.7" y="81" width="19" height="7.6" fill="#fff" stroke="#111" stroke-width="1.5"/>
<path class="kt" d="M420.5,83 L436,83 M420.5,86.3 L436,86.3" style="stroke-dasharray:1.3 0.7;stroke:#222;stroke-width:1"/>
<rect x="411.4" y="91" width="32.8" height="23.6" fill="#fff" stroke="#111" stroke-width="1.1"/>
<path d="M411.4,93.8 C414,91 417,91.2 420,92.6 C424,94.5 432,94.5 436,92.6 C439,91.2 442,91 444.2,93.8 L444.2,97.3 C442,96.8 440,96.5 438,96 C434,94 431,92.4 428,92.4 C425,92.4 422,94 418,96 C416,96.5 414,96.8 411.4,97.3Z" fill="#c8c8c8"/>
<path d="M411.4,108.6 C414,109.2 416,109.6 418,110.3 C422,112.3 425,114 428,114 C431,114 434,112.3 438,110.3 C440,109.6 442,109.2 444.2,108.6 L444.2,112 C442,114.6 439,114.4 436,113.2 C432,111.4 424,111.4 420,113.2 C417,114.4 414,114.6 411.4,112Z" fill="#c8c8c8"/>
<path class="k" d="M411.4,93.8 C414,91 417,91.2 420,92.6 C424,94.5 432,94.5 436,92.6 C439,91.2 442,91 444.2,93.8" style="stroke-width:1"/>
<path class="k" d="M411.4,97.3 C414,96.8 416,96.5 418,96 C422,94 425,92.4 428,92.4 C431,92.4 434,94 438,96 C440,96.5 442,96.8 444.2,97.3" style="stroke-width:1.2"/>
<path class="kt" d="M412,95.5 C415,94.2 418,94 421,94.5 M435,94.5 C438,94 441,94.2 443.6,95.5" style="stroke-dasharray:1 0.8;stroke-width:1"/>
<path class="k" d="M411.4,108.6 C414,109.2 416,109.6 418,110.3 C422,112.3 425,114 428,114 C431,114 434,112.3 438,110.3 C440,109.6 442,109.2 444.2,108.6" style="stroke-width:1.2"/>
<path class="k" d="M411.4,112 C414,114.6 417,114.4 420,113.2 C424,111.4 432,111.4 436,113.2 C439,114.4 442,114.6 444.2,112" style="stroke-width:1"/>
<path class="kt" d="M412,110.6 C415,112 418,112.2 421,111.6 M435,111.6 C438,112.2 441,112 443.6,110.6" style="stroke-dasharray:1 0.8;stroke-width:1"/>
<path class="k" d="M412,97 L412,109 M443.5,97 L443.5,109" style="stroke-width:1.8"/>
<path class="kt" d="M419,97 L419,109 M421.2,96 L421.2,110 M434.5,96 L434.5,110 M437.2,97 L437.2,109" style="stroke:#111;stroke-width:0.9"/>
<line class="r" x1="405.7" y1="103.9" x2="449.6" y2="103.9" style="stroke-width:1.5;stroke:#d83030"/>
<rect x="418.7" y="115.2" width="19" height="11" fill="#fff" stroke="#111" stroke-width="1.5"/>
<path class="kt" d="M420.5,117.7 L436,117.7 M420.5,120.8 L436,120.8 M420.5,123.8 L436,123.8" style="stroke-dasharray:1.3 0.7;stroke:#222;stroke-width:1"/>
<path d="M433,126.3 L435.5,126.3 L435.8,136.4 L433.4,136.4Z" fill="#999" stroke="#222" stroke-width="0.8"/>
<path class="k" d="M509.4,63 L509.4,51.3 L512.8,51.3 L512.8,63" style="stroke:#222;stroke-width:0.9"/>
<path class="k" d="M512.8,63 L515,78.8 L517.3,90 L518.2,110 L518.4,135 L517.8,160 L517.3,190 L516.5,225 L515.6,255 L515,272 L513,275" style="stroke:#222;stroke-width:0.9"/>
<path class="k" d="M512.8,63 L500.4,74.3 L499.8,100 L499.3,135 L498.5,160 L497.5,167.5 L492,178.8 L491.7,230 L491.8,282 L492.5,300.5" style="stroke:#222;stroke-width:0.9"/>
<path class="kt" d="M506,66.5 L509.4,67.5 L512.8,66 M504,70 L511.5,68.5" style="stroke:#222;stroke-width:0.9"/>
<path class="kt" d="M509.4,69.8 L510.5,90 L510.5,135 L510,180 L509.5,230 L508.8,276" style="stroke:#222;stroke-width:0.9"/>
<path class="kt" d="M498,172.5 L497.5,230 L497,276" style="stroke:#222;stroke-width:0.9"/>
<path class="k" d="M513,275 L517,279 L520.6,283.8" style="stroke:#222;stroke-width:0.9"/>
<line class="kt" x1="500.0" y1="110.3" x2="518.0" y2="110.3" style="stroke:#444;stroke-width:0.7"/>
<line class="kt" x1="512.0" y1="96.8" x2="517.0" y2="96.8" style="stroke:#444;stroke-width:0.7"/>
<line class="kt" x1="511.0" y1="138.7" x2="518.0" y2="138.7" style="stroke:#444;stroke-width:0.7"/>
<line class="kt" x1="496.5" y1="186.0" x2="516.5" y2="186.0" style="stroke:#444;stroke-width:0.7"/>
<line class="kt" x1="492.3" y1="195.7" x2="510.8" y2="195.7" style="stroke:#444;stroke-width:0.7"/>
<line class="kt" x1="492.3" y1="205.5" x2="497.0" y2="205.5" style="stroke:#444;stroke-width:0.7"/>
<line class="kt" x1="509.0" y1="205.5" x2="516.5" y2="205.5" style="stroke:#444;stroke-width:0.7"/>
<line class="kt" x1="492.3" y1="216.8" x2="497.0" y2="216.8" style="stroke:#444;stroke-width:0.7"/>
<line class="kt" x1="497.0" y1="223.3" x2="516.3" y2="223.3" style="stroke:#444;stroke-width:0.7"/>
<line class="kt" x1="493.5" y1="239.5" x2="514.0" y2="239.5" style="stroke:#444;stroke-width:0.7"/>
<line class="kt" x1="495.0" y1="255.8" x2="515.8" y2="255.8" style="stroke:#444;stroke-width:0.7"/>
<line class="kt" x1="496.5" y1="267.0" x2="515.6" y2="267.0" style="stroke:#444;stroke-width:0.7"/>
<line class="kt" x1="492.0" y1="276.3" x2="513.0" y2="276.3" style="stroke:#444;stroke-width:0.7"/>
<line class="rd" x1="494.8" y1="62.0" x2="518.4" y2="62.0" />
<line class="r" x1="493.6" y1="90.0" x2="518.4" y2="90.0" style="stroke:#d83030;stroke-width:1.2"/>
<circle class="kt" cx="512.2" cy="300.0" r="18.3" style="stroke:#222;stroke-width:0.9"/>
<circle class="k" cx="512.2" cy="300.0" r="15.0" style="stroke:#222;stroke-width:0.9"/>
<circle class="k" cx="512.2" cy="300.0" r="9.5" style="stroke-width:1.7"/>
<circle class="k" cx="512.2" cy="300.0" r="5.4" style="stroke-width:1.1"/>
<line class="rd" x1="490.0" y1="300.0" x2="535.0" y2="300.0" />
<line class="rd" x1="512.2" y1="279.0" x2="512.2" y2="322.0" />
<path class="k" d="M498,313.7 L502,323 L509.4,330.6 L515,332.5 L516,319.4" style="stroke:#222;stroke-width:0.9"/>
<path class="kt" d="M501,318 L506,327 M505,316.5 L510,326 M509,316.5 L513,327" style="stroke:#222;stroke-width:0.9"/>
<path d="M404.5,395.5 L404.5,376 A12,12 0 0 1 416.5,364 L435.6,364 L435.6,395.5 Z" fill="#111"/>
<rect x="405.8" y="385.6" width="28.5" height="8.6" fill="#fff"/>
<path d="M407.1,386 L407.1,377 A10,10 0 0 1 417.1,367 L418,367" fill="none" stroke="#fff" stroke-width="2.4"/>
<path d="M404.4,379.3 L410.3,379.3" fill="none" stroke="#fff" stroke-width="2.2"/>
<path d="M410,377.9 L416,377.9 A3.1,4.0 0 1 0 415.3,381.6" fill="none" stroke="#fff" stroke-width="2.5"/>
<path d="M419.1,366.5 L419.1,383.6" fill="none" stroke="#fff" stroke-width="2.6"/>
<ellipse cx="422.6" cy="378.6" rx="2.9" ry="4.0" fill="none" stroke="#fff" stroke-width="2.5"/>
<path d="M430.6,373 L430.6,383.6" fill="none" stroke="#fff" stroke-width="2.7"/>
<circle cx="432.6" cy="370" r="1.7" fill="#fff"/>
<text x="408.3" y="392.8" font-family="Liberation Sans" font-size="6.4" fill="#1a1a1a" textLength="23.6" lengthAdjust="spacingAndGlyphs" style="opacity:0.92">bilstein</text>
<text x="437.8" y="368" font-family="Liberation Sans" font-size="3.8" fill="#555" style="opacity:0.9">&#174;</text>
<path d="M451.60,373.75 L453.40,373.75 L453.40,388.75 L451.60,388.75 L451.60,376.00 L448.90,377.75 L448.10,376.30 Z" fill="#121212"/>
<ellipse cx="464.1" cy="377" rx="3.1" ry="2.95" fill="none" stroke="#121212" stroke-width="1.85" stroke-linejoin="bevel"/>
<ellipse cx="464.25" cy="384.5" rx="4.15" ry="3.45" fill="none" stroke="#121212" stroke-width="1.85" stroke-linejoin="bevel"/>
<path d="M476.10,373.75 L477.90,373.75 L477.90,388.75 L476.10,388.75 L476.10,376.00 L473.40,377.75 L472.60,376.30 Z" fill="#121212"/>
<path d="M491.1,374.6 L491.1,388.75 M491,374.4 L483.8,384 M483.1,384 L493.8,384" fill="none" stroke="#121212" stroke-width="1.85" stroke-linejoin="bevel"/>
<path d="M490.2,373.75 L492,373.75 L492,375.5 L490.2,375.5Z" fill="#121212"/>
<path d="M500.20,373.75 L502.00,373.75 L502.00,388.75 L500.20,388.75 L500.20,376.00 L497.50,377.75 L496.70,376.30 Z" fill="#121212"/>
<ellipse cx="513.4" cy="381.1" rx="4.2" ry="7.05" fill="none" stroke="#121212" stroke-width="1.95"/>
</svg>
</body></html>
